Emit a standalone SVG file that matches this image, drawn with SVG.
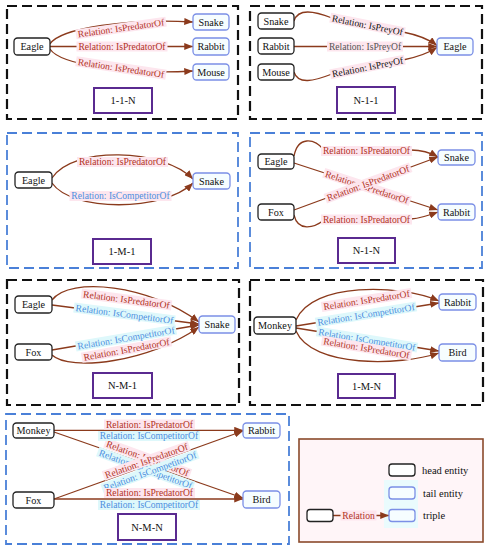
<svg xmlns="http://www.w3.org/2000/svg" width="491" height="550" viewBox="0 0 491 550">
<defs>
<style>
.fb{fill:none;stroke:#111;stroke-width:2.2;stroke-dasharray:10 5}
.fbb{fill:none;stroke:#4a80d8;stroke-width:1.8;stroke-dasharray:10 5}
.h{fill:#fff;stroke:#222;stroke-width:1.3}
.t{fill:#f6fdff;stroke:#7b8fe6;stroke-width:1.3}
.k{fill:#fff;stroke:#5a2a90;stroke-width:2}
.e{fill:none;stroke:#8b3a1c;stroke-width:1.3;marker-end:url(#ah)}
.n{font-family:"Liberation Serif","Times New Roman",serif;font-size:10.2px;fill:#111;text-anchor:middle}
.kl{font-family:"Liberation Serif","Times New Roman",serif;font-size:10.5px;fill:#111;text-anchor:middle}
.tr{font-family:"Liberation Serif","Times New Roman",serif;font-size:9.6px;fill:#b2331f;text-anchor:middle}
.tb{font-family:"Liberation Serif","Times New Roman",serif;font-size:9.6px;fill:#4d8fe0;text-anchor:middle}
.lg{font-family:"Liberation Serif","Times New Roman",serif;font-size:10.5px;fill:#111}
.bp{fill:#fde6ee}
.bc{fill:#def8fb}
</style>
<marker id="ah" viewBox="0 0 10 8" refX="10" refY="4" markerWidth="9" markerHeight="7" orient="auto" markerUnits="userSpaceOnUse"><path d="M0,0L10,4L0,8z" fill="#8b3a1c"/></marker>
</defs>
<rect width="491" height="550" fill="#fff"/>

<g id="frames">
<rect class="fb" x="7" y="6" width="231" height="113"/>
<rect class="fb" x="250" y="6" width="232" height="113"/>
<rect class="fbb" x="7" y="133" width="231" height="135"/>
<rect class="fbb" x="250" y="133" width="232" height="135"/>
<rect class="fb" x="7" y="280" width="232" height="125"/>
<rect class="fb" x="250" y="280" width="233" height="125"/>
<rect class="fbb" x="6" y="414" width="283" height="130"/>
<rect x="299" y="439" width="184" height="103" fill="#fff5f8" stroke="#8b4a2b" stroke-width="1.6"/>
<rect x="384" y="480" width="34" height="48" fill="#eafbfd"/>
</g>

<g id="connectors">
<!-- panel 1 -->
<path class="e" d="M50,44 C60,28 130,18 193,22"/>
<path class="e" d="M50,46.5 L193,46.5"/>
<path class="e" d="M50,49 C60,65 130,75 193,71"/>
<!-- panel 2 -->
<path class="e" d="M294,21 C298,8 314,11 332,18 L403,32 C418,35 430,40 437,45.5"/>
<path class="e" d="M294,46.5 L437,46.5"/>
<path class="e" d="M294,72 C298,85 314,81 332,74 L403,60 C418,57 430,52 437,47.5"/>
<!-- panel 3 -->
<path class="e" d="M52,178 C72,146 163,148 193,179"/>
<path class="e" d="M52,183 C72,212 163,212 193,183"/>
<!-- panel 4 -->
<path class="e" d="M294,156 C298,136 314,138 324,150 L411,150 C422,150 431,153 438,157"/>
<path class="e" d="M294,163 L438,210"/>
<path class="e" d="M294,210 L438,157"/>
<path class="e" d="M294,215 C298,232 314,228 324,220 L411,219 C422,218 430,215 438,212"/>
<!-- panel 5 -->
<path class="e" d="M52,300 C70,276 150,285 199,322"/>
<path class="e" d="M52,305 L199,324"/>
<path class="e" d="M52,350 L199,325"/>
<path class="e" d="M52,355 C70,372 150,362 199,327"/>
<!-- panel 6 -->
<path class="e" d="M296,320 C312,282 400,284 439,301"/>
<path class="e" d="M296,326 L439,303"/>
<path class="e" d="M296,328 L439,351"/>
<path class="e" d="M296,331 C312,368 400,366 439,353"/>
<!-- panel 7 -->
<path class="e" d="M54,430.3 L243,430.3"/>
<path class="e" d="M54,499 L243,499"/>
<path class="e" d="M54,432 L243,498"/>
<path class="e" d="M54,499 L243,431"/>
<!-- legend -->
<path class="e" d="M333,515.5 L389,515.5"/>
</g>

<g id="labels">
<g transform="translate(121,28) rotate(-8)"><rect class="bp" x="-45.5" y="-5" width="91" height="10"/><text class="tr" y="3.4">Relation: IsPredatorOf</text></g>
<g transform="translate(122,46.5)"><rect class="bp" x="-45.5" y="-5" width="91" height="10"/><text class="tr" y="3.4">Relation: IsPredatorOf</text></g>
<g transform="translate(121,68) rotate(8.5)"><rect class="bp" x="-45.5" y="-5" width="91" height="10"/><text class="tr" y="3.4">Relation: IsPredatorOf</text></g>

<g transform="translate(367.5,25) rotate(11.2)"><rect class="bp" x="-38" y="-5" width="76" height="10"/><text class="n" style="font-size:9.6px" y="3.4">Relation: IsPreyOf</text></g>
<g transform="translate(365,46.5)"><rect class="bp" x="-38" y="-5" width="76" height="10"/><text class="n" style="font-size:9.6px;fill:#555" y="3.4">Relation: IsPreyOf</text></g>
<g transform="translate(367.5,67) rotate(-11.2)"><rect class="bp" x="-38" y="-5" width="76" height="10"/><text class="n" style="font-size:9.6px" y="3.4">Relation: IsPreyOf</text></g>

<g transform="translate(122.5,162)"><rect class="bp" x="-45.5" y="-5" width="91" height="10"/><text class="tr" y="3.4">Relation: IsPredatorOf</text></g>
<g transform="translate(120.5,196)"><rect class="bp" x="-51" y="-5" width="102" height="10"/><text class="tb" y="3.4">Relation: IsCompetitorOf</text></g>

<g transform="translate(366.5,151)"><rect class="bp" x="-45.5" y="-5" width="91" height="10"/><text class="tr" y="3.4">Relation: IsPredatorOf</text></g>
<g transform="translate(367,187) rotate(18.1)"><rect class="bp" x="-45.5" y="-5" width="91" height="10"/><text class="tr" y="3.4">Relation: IsPredatorOf</text></g>
<g transform="translate(368,183) rotate(-20.2)"><rect class="bp" x="-45.5" y="-5" width="91" height="10"/><text class="tr" y="3.4">Relation: IsPredatorOf</text></g>
<g transform="translate(366.5,219.5)"><rect class="bp" x="-45.5" y="-5" width="91" height="10"/><text class="tr" y="3.4">Relation: IsPredatorOf</text></g>

<g transform="translate(126.5,299.5) rotate(7.5)"><rect class="bp" x="-45.5" y="-5" width="91" height="10"/><text class="tr" y="3.4">Relation: IsPredatorOf</text></g>
<g transform="translate(124.5,314) rotate(7.4)"><rect class="bc" x="-51" y="-5" width="102" height="10"/><text class="tb" y="3.4">Relation: IsCompetitorOf</text></g>
<g transform="translate(126,338) rotate(-9.6)"><rect class="bc" x="-51" y="-5" width="102" height="10"/><text class="tb" y="3.4">Relation: IsCompetitorOf</text></g>
<g transform="translate(126.5,349.5) rotate(-10.4)"><rect class="bp" x="-45.5" y="-5" width="91" height="10"/><text class="tr" y="3.4">Relation: IsPredatorOf</text></g>

<g transform="translate(366.5,300) rotate(-8.9)"><rect class="bp" x="-45.5" y="-5" width="91" height="10"/><text class="tr" y="3.4">Relation: IsPredatorOf</text></g>
<g transform="translate(366,314.5) rotate(-9.1)"><rect class="bc" x="-51" y="-5" width="102" height="10"/><text class="tb" y="3.4">Relation: IsCompetitorOf</text></g>
<g transform="translate(367,339.5) rotate(9.1)"><rect class="bc" x="-51" y="-5" width="102" height="10"/><text class="tb" y="3.4">Relation: IsCompetitorOf</text></g>
<g transform="translate(366.5,348) rotate(9.5)"><rect class="bp" x="-45.5" y="-5" width="91" height="10"/><text class="tr" y="3.4">Relation: IsPredatorOf</text></g>

<g transform="translate(147.7,458.3) rotate(20)"><rect class="bp" x="-45.5" y="-5" width="91" height="10"/><text class="tr" y="3.4">Relation: IsPredatorOf</text></g>
<g transform="translate(145.7,469) rotate(20)"><rect class="bc" x="-51" y="-5" width="102" height="10"/><text class="tb" y="3.4">Relation: IsCompetitorOf</text></g>
<g transform="translate(146.3,460.8) rotate(-19.5)"><rect class="bp" x="-45.5" y="-5" width="91" height="10"/><text class="tr" y="3.4">Relation: IsPredatorOf</text></g>
<g transform="translate(150,471.3) rotate(-20)"><rect class="bc" x="-51" y="-5" width="102" height="10"/><text class="tb" y="3.4">Relation: IsCompetitorOf</text></g>
<g transform="translate(149.5,424.5)"><rect class="bp" x="-45.5" y="-5" width="91" height="10"/><text class="tr" y="3.4">Relation: IsPredatorOf</text></g>
<g transform="translate(149,436)"><rect class="bc" x="-51" y="-5" width="102" height="10"/><text class="tb" y="3.4">Relation: IsCompetitorOf</text></g>
<g transform="translate(149.5,493)"><rect class="bp" x="-45.5" y="-5" width="91" height="10"/><text class="tr" y="3.4">Relation: IsPredatorOf</text></g>
<g transform="translate(149,505)"><rect class="bc" x="-51" y="-5" width="102" height="10"/><text class="tb" y="3.4">Relation: IsCompetitorOf</text></g>
<g transform="translate(358.5,515.5)"><rect class="bp" x="-18" y="-5" width="36" height="10"/><text class="tr" y="3.4">Relation</text></g>
</g>

<!-- panel 1 nodes -->
<g id="p1-eagle"><rect class="h" x="14" y="38" width="36" height="17" rx="3.5"/><text class="n" x="32" y="50">Eagle</text></g>
<g id="p1-snake"><rect class="t" x="193" y="14" width="36" height="16" rx="3.5"/><text class="n" x="211" y="25.5">Snake</text></g>
<g id="p1-rabbit"><rect class="t" x="193" y="38" width="36" height="17" rx="3.5"/><text class="n" x="211" y="50">Rabbit</text></g>
<g id="p1-mouse"><rect class="t" x="193" y="64" width="36" height="16" rx="3.5"/><text class="n" x="211" y="75.5">Mouse</text></g>
<g id="p1-label"><rect class="k" x="94" y="88" width="58" height="25"/><text class="kl" x="123" y="104">1-1-N</text></g>

<!-- panel 2 nodes -->
<g id="p2-snake"><rect class="h" x="258" y="13" width="36" height="16" rx="3.5"/><text class="n" x="276" y="24.5">Snake</text></g>
<g id="p2-rabbit"><rect class="h" x="258" y="38" width="36" height="16" rx="3.5"/><text class="n" x="276" y="49.5">Rabbit</text></g>
<g id="p2-mouse"><rect class="h" x="258" y="64" width="36" height="16" rx="3.5"/><text class="n" x="276" y="75.5">Mouse</text></g>
<g id="p2-eagle"><rect class="t" x="437" y="38" width="36" height="17" rx="3.5"/><text class="n" x="455" y="50">Eagle</text></g>
<g id="p2-label"><rect class="k" x="337" y="87" width="58" height="26"/><text class="kl" x="366" y="103.5">N-1-1</text></g>

<!-- panel 3 nodes -->
<g id="p3-eagle"><rect class="h" x="15" y="172" width="37" height="16" rx="3.5"/><text class="n" x="33.5" y="183.5">Eagle</text></g>
<g id="p3-snake"><rect class="t" x="193" y="173" width="37" height="16" rx="3.5"/><text class="n" x="211.5" y="184.5">Snake</text></g>
<g id="p3-label"><rect class="k" x="93" y="239" width="58" height="25"/><text class="kl" x="122" y="255">1-M-1</text></g>

<!-- panel 4 nodes -->
<g id="p4-eagle"><rect class="h" x="258" y="154" width="36" height="15" rx="3.5"/><text class="n" x="276" y="165">Eagle</text></g>
<g id="p4-fox"><rect class="h" x="258" y="204" width="36" height="16" rx="3.5"/><text class="n" x="276" y="215.5">Fox</text></g>
<g id="p4-snake"><rect class="t" x="438" y="150" width="37" height="15" rx="3.5"/><text class="n" x="456.5" y="161">Snake</text></g>
<g id="p4-rabbit"><rect class="t" x="438" y="204" width="37" height="16" rx="3.5"/><text class="n" x="456.5" y="215.5">Rabbit</text></g>
<g id="p4-label"><rect class="k" x="338" y="238" width="57" height="25"/><text class="kl" x="366.5" y="254">N-1-N</text></g>

<!-- panel 5 nodes -->
<g id="p5-eagle"><rect class="h" x="15" y="296" width="37" height="17" rx="3.5"/><text class="n" x="33.5" y="308">Eagle</text></g>
<g id="p5-fox"><rect class="h" x="15" y="344" width="37" height="16" rx="3.5"/><text class="n" x="33.5" y="355.5">Fox</text></g>
<g id="p5-snake"><rect class="t" x="199" y="316" width="36" height="17" rx="3.5"/><text class="n" x="217" y="328">Snake</text></g>
<g id="p5-label"><rect class="k" x="93" y="373" width="59" height="25"/><text class="kl" x="122.5" y="389">N-M-1</text></g>

<!-- panel 6 nodes -->
<g id="p6-monkey"><rect class="h" x="254" y="317" width="42" height="17" rx="3.5"/><text class="n" x="275" y="329">Monkey</text></g>
<g id="p6-rabbit"><rect class="t" x="439" y="294" width="37" height="16" rx="3.5"/><text class="n" x="457.5" y="305.5">Rabbit</text></g>
<g id="p6-bird"><rect class="t" x="439" y="344" width="37" height="17" rx="3.5"/><text class="n" x="457.5" y="356">Bird</text></g>
<g id="p6-label"><rect class="k" x="338" y="374" width="57" height="24"/><text class="kl" x="366.5" y="389.5">1-M-N</text></g>

<!-- panel 7 nodes -->
<g id="p7-monkey"><rect class="h" x="13" y="423" width="41" height="15" rx="3.5"/><text class="n" x="33.5" y="434">Monkey</text></g>
<g id="p7-fox"><rect class="h" x="13" y="492" width="41" height="16" rx="3.5"/><text class="n" x="33.5" y="503.5">Fox</text></g>
<g id="p7-rabbit"><rect class="t" x="243" y="423" width="37" height="15" rx="3.5"/><text class="n" x="261.5" y="434">Rabbit</text></g>
<g id="p7-bird"><rect class="t" x="243" y="491" width="37" height="17" rx="3.5"/><text class="n" x="261.5" y="503">Bird</text></g>
<g id="p7-label"><rect class="k" x="118" y="514" width="58" height="26"/><text class="kl" x="147" y="530.5">N-M-N</text></g>

<!-- legend -->
<g id="legend">
<g id="legend-head"><rect class="h" x="389" y="464" width="26" height="12" rx="3"/><text class="lg" x="422" y="474">head entity</text></g>
<g id="legend-tail"><rect class="t" x="389" y="487" width="26" height="12" rx="3"/><text class="lg" x="423" y="496.5">tail entity</text></g>
<g id="legend-src"><rect class="h" x="307" y="509.5" width="26" height="12" rx="3"/></g>
<g id="legend-triple"><rect class="t" x="389" y="509.5" width="26" height="12" rx="3"/><text class="lg" x="423" y="518.5">triple</text></g>
</g>
</svg>
